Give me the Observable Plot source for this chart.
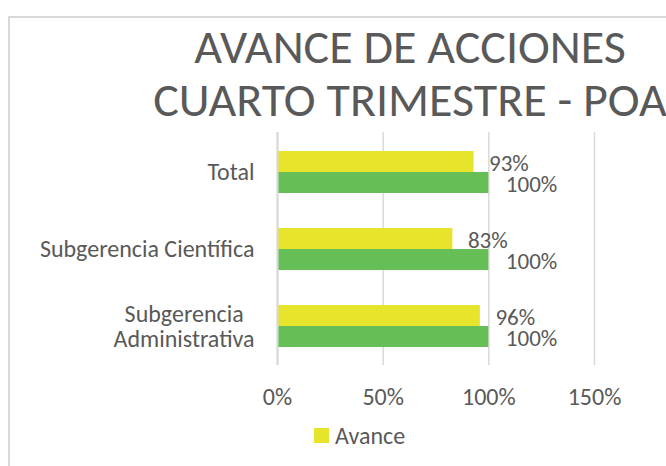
<!DOCTYPE html>
<html>
<head>
<meta charset="utf-8">
<script src="https://cdn.jsdelivr.net/npm/d3@7"></script>
<script src="https://cdn.jsdelivr.net/npm/@observablehq/plot@0.6"></script>
<style>
  html, body { margin: 0; padding: 0; background: #fff; }
  #wrap { position: relative; width: 666px; height: 466px; overflow: hidden; font-family: Carlito, Calibri, Lato, sans-serif; color: #595959; }
  #frame { position: absolute; left: 8px; top: 16px; width: 700px; height: 500px; border-left: 2px solid #d9d9d9; border-top: 2px solid #d9d9d9; }
  #title { position: absolute; left: 0; top: 20px; width: 820px; text-align: center; font-size: 48px; line-height: 53px; white-space: nowrap; }
  #legend { position: absolute; left: 314px; top: 421px; font-size: 24px; display: flex; align-items: center; }
  #legend .sw { width: 15px; height: 15px; margin-right: 6px; }
  #chart { position: absolute; left: 0; top: 0; }
</style>
</head>
<body>
<div id="wrap">
  <div id="frame"></div>
  <div id="chart"></div>
  <div id="title">AVANCE DE ACCIONES<br>CUARTO TRIMESTRE - POA</div>
  <div id="legend"></div>
</div>
<script>
const categories = ["Total", "Subgerencia Científica", "Subgerencia Administrativa"];
const categoryLabels = ["Total", "Subgerencia Científica", "Subgerencia\u00a0\u00a0\nAdministrativa"];
const avance = [93, 83, 96];
const meta = [100, 100, 100];
const seriesNames = ["Avance", "Meta"];
const seriesColors = ["#e6e52c", "#66bf56"];
const xTicks = [0, 50, 100, 150];
const legendItems = ["Avance"];

const rowsAvance = categories.map((c, i) => ({category: c, value: avance[i], series: seriesNames[0]}));
const rowsMeta = categories.map((c, i) => ({category: c, value: meta[i], series: seriesNames[1]}));
const labelOf = new Map(categories.map((c, i) => [c, categoryLabels[i]]));

const textColor = "#595959";
const fontFamily = "Carlito, Calibri, Lato, sans-serif";

const chart = Plot.plot({
  width: 666,
  height: 466,
  marginLeft: 277,
  marginRight: 72,
  marginTop: 132,
  marginBottom: 101,
  style: {fontFamily, color: textColor, background: "transparent", overflow: "visible"},
  x: {domain: [0, 150], ticks: xTicks, label: null},
  y: {domain: categories, paddingInner: 0.46, paddingOuter: 0.23, label: null},
  color: {domain: seriesNames, range: seriesColors},
  marks: [
    Plot.gridX(xTicks, {stroke: "#d9d9d9", strokeOpacity: 1, strokeWidth: 1.5}),
    Plot.barX(rowsAvance, {x: "value", y: "category", fill: "series", insetBottom: 21}),
    Plot.barX(rowsMeta, {x: "value", y: "category", fill: "series", insetTop: 21}),
    Plot.ruleX([0], {stroke: "#d9d9d9", strokeWidth: 2}),
    Plot.text(rowsAvance, {x: "value", y: "category", text: d => d.value + "%", textAnchor: "start", dx: 15, dy: -9, fontSize: 23, fill: textColor}),
    Plot.text(rowsMeta, {x: "value", y: "category", text: d => d.value + "%", textAnchor: "start", dx: 17, dy: 12, fontSize: 23, fill: textColor}),
    Plot.axisX(xTicks, {tickSize: 0, tickPadding: 22, tickFormat: d => d + "%", fontSize: 24, fill: textColor, label: null}),
    Plot.axisY({tickSize: 0, tickPadding: 23, tickFormat: d => labelOf.get(d), fontSize: 24, fill: textColor, lineHeight: 1.02, label: null})
  ]
});
document.getElementById("chart").appendChild(chart);

const legend = document.getElementById("legend");
legendItems.forEach(name => {
  const sw = document.createElement("span");
  sw.className = "sw";
  sw.style.background = seriesColors[seriesNames.indexOf(name)];
  const tx = document.createElement("span");
  tx.textContent = name;
  legend.appendChild(sw);
  legend.appendChild(tx);
});
</script>
</body>
</html>
